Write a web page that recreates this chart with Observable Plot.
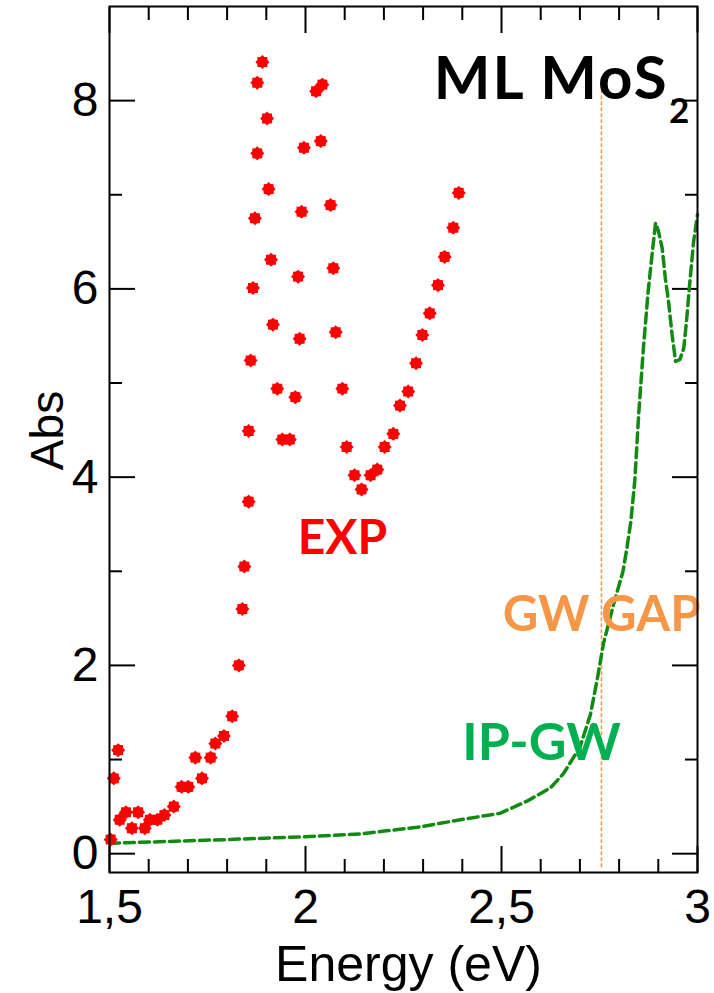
<!DOCTYPE html>
<html>
<head>
<meta charset="utf-8">
<script src="https://cdn.jsdelivr.net/npm/d3@7"></script>
<script src="https://cdn.jsdelivr.net/npm/@observablehq/plot@0.6"></script>
<style>
  html, body { margin: 0; padding: 0; background: white; }
</style>
</head>
<body>
<div id="chart"></div>
<script>
// ---- data ----
const expEnergy = [1.503, 1.511, 1.522, 1.526, 1.542, 1.557, 1.573, 1.590, 1.603, 1.622,
  1.640, 1.664, 1.684, 1.701, 1.719, 1.736, 1.758, 1.770, 1.792, 1.813,
  1.830, 1.839, 1.844, 1.855, 1.855, 1.860, 1.866, 1.871, 1.877, 1.877,
  1.890, 1.902, 1.906, 1.912, 1.917, 1.928, 1.941, 1.960, 1.974, 1.985,
  1.981, 1.990, 1.996, 2.027, 2.043, 2.039, 2.064, 2.071, 2.077, 2.094,
  2.105, 2.125, 2.143, 2.166, 2.183, 2.202, 2.224, 2.241, 2.262, 2.282,
  2.298, 2.317, 2.338, 2.355, 2.377, 2.391];
const expAbs = [0.15, 0.80, 1.10, 0.36, 0.44, 0.27, 0.44, 0.27, 0.36, 0.36,
  0.41, 0.50, 0.71, 0.71, 1.02, 0.80, 1.02, 1.17, 1.25, 1.46,
  2.00, 2.60, 3.05, 3.74, 4.49, 5.24, 6.01, 6.75, 7.44, 8.19,
  8.41, 7.81, 7.06, 6.31, 5.62, 4.94, 4.40, 4.40, 4.85, 5.47,
  6.13, 6.82, 7.50, 8.10, 8.17, 7.57, 6.89, 6.22, 5.54, 4.94,
  4.32, 4.02, 3.87, 4.02, 4.08, 4.32, 4.46, 4.76, 4.91, 5.21,
  5.51, 5.74, 6.04, 6.34, 6.65, 7.02];

const ipgwEnergy = [1.50, 1.65, 1.80, 2.00, 2.14, 2.20, 2.285, 2.395, 2.497, 2.566,
  2.625, 2.658, 2.700, 2.727, 2.745, 2.760, 2.786, 2.810, 2.820, 2.830,
  2.840, 2.850, 2.862, 2.874, 2.885, 2.893, 2.900, 2.910, 2.918, 2.926,
  2.935, 2.944, 2.955, 2.965, 2.972, 2.980, 2.990, 3.000];
const ipgwAbs = [0.11, 0.13, 0.15, 0.18, 0.21, 0.24, 0.28, 0.36, 0.43, 0.56,
  0.70, 0.85, 1.13, 1.48, 1.87, 2.23, 2.65, 3.00, 3.25, 3.53,
  3.96, 4.67, 5.37, 5.97, 6.40, 6.70, 6.62, 6.43, 6.11, 5.87,
  5.52, 5.23, 5.25, 5.37, 5.66, 6.05, 6.50, 6.79];

const gwGap = [2.755];

const xMajorTicks = [1.5, 2, 2.5, 3];
const xTickLabels = ["1,5", "2", "2,5", "3"];
const xMinorTicks = [1.6, 1.7, 1.8, 1.9, 2.1, 2.2, 2.3, 2.4, 2.6, 2.7, 2.8, 2.9];
const yMajorTicks = [0, 2, 4, 6, 8];
const yTickLabels = ["0", "2", "4", "6", "8"];
const yMinorTicks = [1, 3, 5, 7];

// ---- tables ----
const exp = expEnergy.map((e, i) => ({energy: e, abs: expAbs[i]}));
const ipgw = ipgwEnergy.map((e, i) => ({energy: e, abs: ipgwAbs[i]}));

// eight-pointed star marker
const star8 = {
  draw(context, size) {
    const r = Math.sqrt(size / Math.PI);
    const ri = r * 0.78;
    for (let i = 0; i < 16; i++) {
      const a = (i * Math.PI) / 8;
      const rr = i % 2 === 0 ? r : ri;
      const px = rr * Math.sin(a), py = -rr * Math.cos(a);
      if (i === 0) context.moveTo(px, py); else context.lineTo(px, py);
    }
    context.closePath();
  }
};

const fmtX = d => xTickLabels[xMajorTicks.indexOf(d)];
const fmtY = d => yTickLabels[yMajorTicks.indexOf(d)];
const sans = "'Liberation Sans', Arial, Helvetica, sans-serif";
const bold = "Lato, 'Open Sans', sans-serif";

const chart = Plot.plot({
  width: 714,
  height: 993,
  marginLeft: 109,
  marginRight: 17,
  marginTop: 6,
  marginBottom: 121,
  style: {background: "white", fontFamily: sans, fontSize: "48px", color: "black"},
  x: {domain: [1.5, 3]},
  y: {domain: [-0.2, 9]},
  marks: [
    // ticks (inward) on all four sides
    Plot.axisX(xMajorTicks, {anchor: "bottom", tickSize: -26, strokeWidth: 2, fill: "none", label: null}),
    Plot.axisX(xMinorTicks, {anchor: "bottom", tickSize: -13, strokeWidth: 2, fill: "none", label: null}),
    Plot.axisX(xMajorTicks, {anchor: "top", tickSize: -26, strokeWidth: 2, fill: "none", label: null}),
    Plot.axisX(xMinorTicks, {anchor: "top", tickSize: -13, strokeWidth: 2, fill: "none", label: null}),
    Plot.axisY(yMajorTicks, {anchor: "left", tickSize: -26, strokeWidth: 2, fill: "none", label: null}),
    Plot.axisY(yMinorTicks, {anchor: "left", tickSize: -13, strokeWidth: 2, fill: "none", label: null}),
    Plot.axisY(yMajorTicks, {anchor: "right", tickSize: -26, strokeWidth: 2, fill: "none", label: null}),
    Plot.axisY(yMinorTicks, {anchor: "right", tickSize: -13, strokeWidth: 2, fill: "none", label: null}),
    // tick labels
    Plot.axisX(xMajorTicks, {anchor: "bottom", tickSize: 0, tickPadding: 16, tickFormat: fmtX, fontSize: 48, fill: "black", label: null}),
    Plot.axisY(yMajorTicks, {anchor: "left", tickSize: 0, tickPadding: 11, tickFormat: fmtY, fontSize: 48, fill: "black", label: null}),
    // axis titles
    Plot.text(["Energy (eV)"], {frameAnchor: "bottom", lineAnchor: "bottom", dy: 108, dx: 5, fontSize: 50, fill: "black"}),
    Plot.text(["Abs"], {frameAnchor: "left", textAnchor: "middle", rotate: -90, lineAnchor: "bottom", dx: -47, dy: -9, fontSize: 46, fill: "black"}),
    // GW gap marker
    Plot.ruleX(gwGap, {y1: -0.15, y2: 8.15, stroke: "#f79646", strokeWidth: 1.5, strokeDasharray: "4,2"}),
    // IP-GW curve
    Plot.line(ipgw, {x: "energy", y: "abs", stroke: "#128a12", strokeWidth: 3.5, strokeDasharray: "10,5", curve: "linear"}),
    // experiment points
    Plot.dot(exp, {x: "energy", y: "abs", r: 7, symbol: star8, fill: "#ff0000", stroke: "none"}),
    // annotations
    Plot.text(["ML MoS"], {x: 2.327, y: 8.02, textAnchor: "start", lineAnchor: "bottom", fontFamily: bold, fontWeight: "bold", fontSize: 60, fill: "black"}),
    Plot.text(["2"], {x: 2.927, y: 7.76, textAnchor: "start", lineAnchor: "bottom", fontFamily: bold, fontWeight: "bold", fontSize: 35, fill: "black"}),
    Plot.text(["EXP"], {x: 1.980, y: 3.18, textAnchor: "start", lineAnchor: "bottom", fontFamily: bold, fontWeight: "bold", fontSize: 48, fill: "#ff0000"}),
    Plot.text(["IP-GW"], {x: 2.40, y: 0.99, textAnchor: "start", lineAnchor: "bottom", fontFamily: bold, fontWeight: "bold", fontSize: 52, fill: "#00b050"}),
    Plot.text(["GW GAP"], {x: 2.503, y: 2.37, textAnchor: "start", lineAnchor: "bottom", fontFamily: bold, fontWeight: "bold", fontSize: 49, fill: "#f79646"}),
    Plot.frame({stroke: "black", strokeWidth: 2})
  ]
});

document.getElementById("chart").appendChild(chart);

// widen the title letters slightly towards the reference's width
d3.select(chart).selectAll("text")
  .filter(function () { return this.textContent.trim() === "ML MoS"; })
  .style("letter-spacing", "2px");
</script>
</body>
</html>
